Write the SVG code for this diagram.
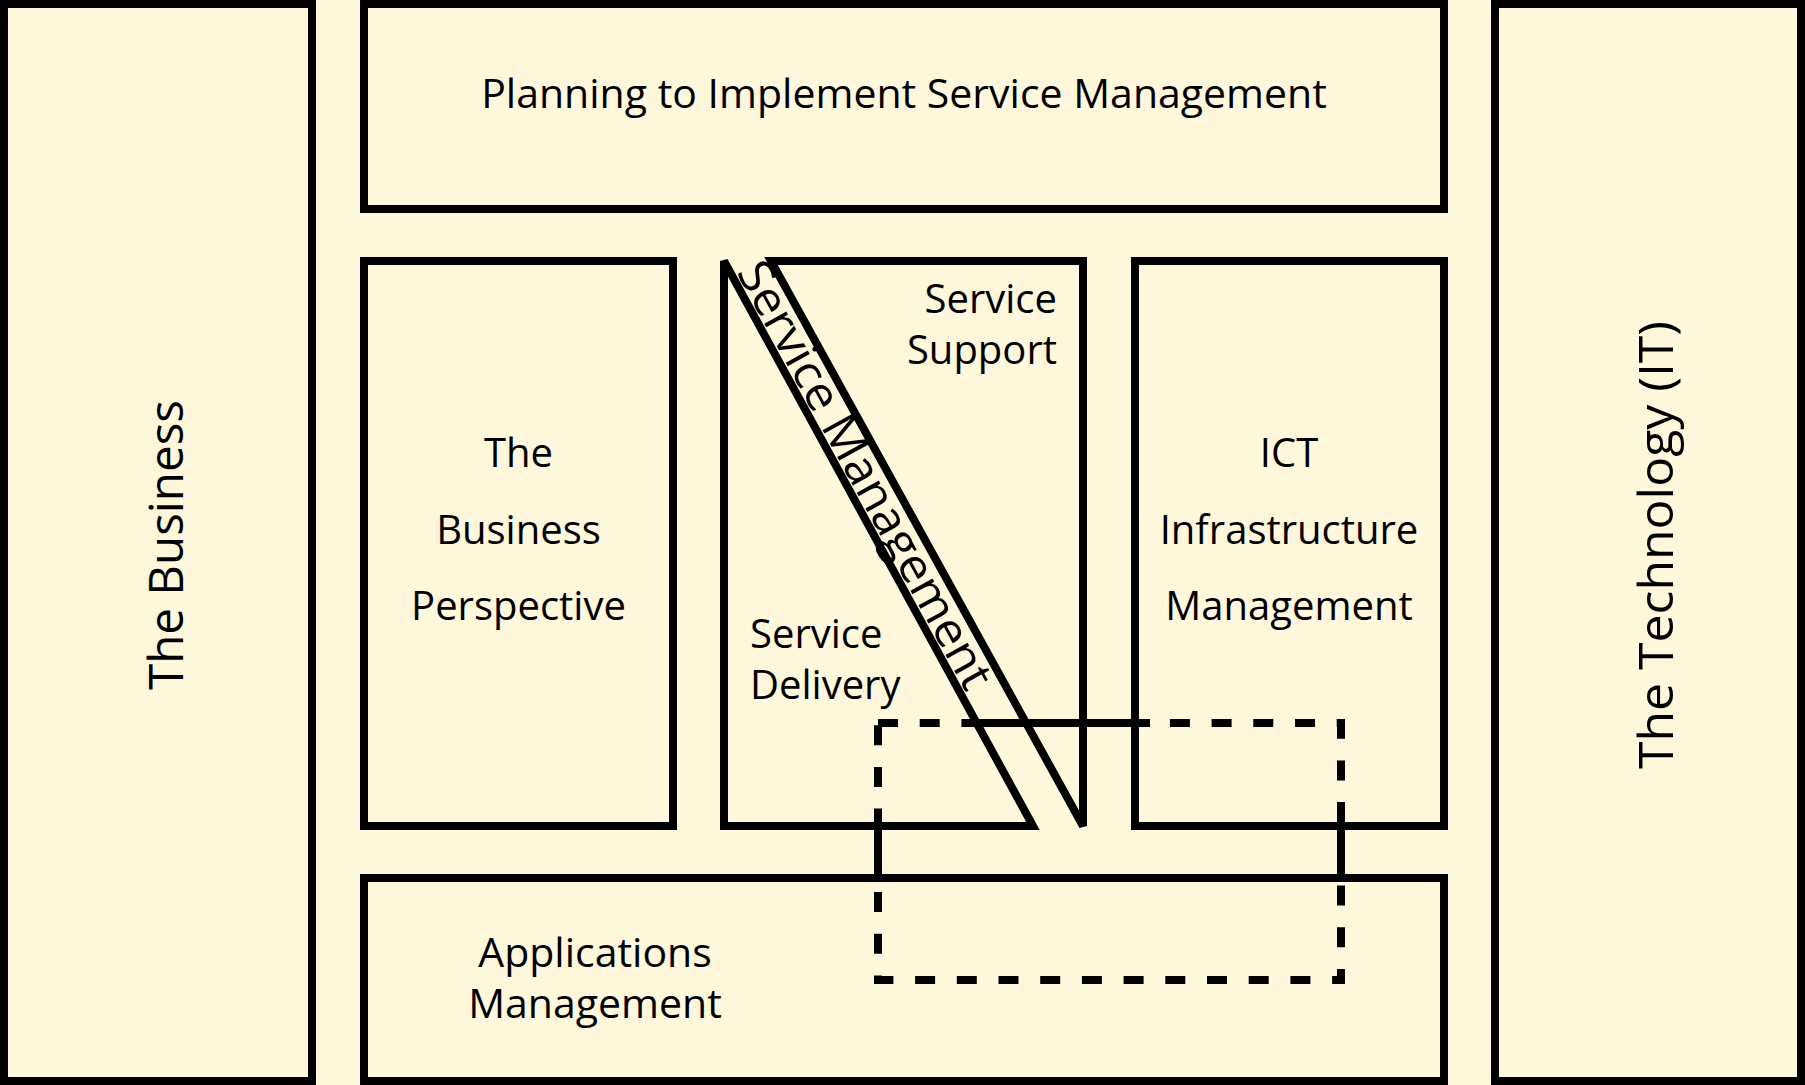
<svg xmlns="http://www.w3.org/2000/svg" width="1805" height="1085" viewBox="0 0 1805 1085">
<style>
.box{fill:#FFF7DC;stroke:#000;stroke-width:8;stroke-linejoin:miter}
.ln{fill:none;stroke:#000;stroke-width:8}
.dash{fill:none;stroke:#000;stroke-width:8;stroke-dasharray:20 21.7}
text{font-family:"Open Sans","DejaVu Sans",sans-serif;fill:#000}
.t40{font-size:40px}
.t41{font-size:41px}
.t47{font-size:47px}
.mid{text-anchor:middle}
.end{text-anchor:end}
</style>
<rect x="0" y="0" width="1805" height="1085" fill="#FFF7DC"/>
<g id="the-business">
<rect class="box" x="4" y="4" width="308" height="1077"/>
<text class="t47 mid" transform="translate(183,545) rotate(-90)" textLength="290" lengthAdjust="spacingAndGlyphs">The Business</text>
</g>
<g id="the-technology">
<rect class="box" x="1495" y="4" width="306" height="1077"/>
<text class="t47 mid" transform="translate(1673,545) rotate(-90)" textLength="448" lengthAdjust="spacingAndGlyphs">The Technology (IT)</text>
</g>
<g id="planning">
<rect class="box" x="364" y="4" width="1080" height="205"/>
<text class="t41 mid" x="904" y="108">Planning to Implement Service Management</text>
</g>
<g id="business-perspective">
<rect class="box" x="364" y="261" width="309" height="565"/>
<text class="t40 mid" x="518.5" y="467">The</text>
<text class="t40 mid" x="518.5" y="544">Business</text>
<text class="t40 mid" x="518.5" y="620">Perspective</text>
</g>
<g id="service-delivery">
<polygon class="box" points="724,261 1033,826 724,826"/>
<text class="t40" x="750" y="648">Service</text>
<text class="t40" x="750" y="699">Delivery</text>
</g>
<g id="service-support">
<polygon class="box" points="771,261 1083,261 1083,826"/>
<text class="t40 end" x="1057" y="313">Service</text>
<text class="t40 end" x="1057" y="364">Support</text>
</g>
<g id="service-management">
<text class="t47" transform="translate(736,272) rotate(61.3)" textLength="480" lengthAdjust="spacingAndGlyphs">Service Management</text>
</g>
<g id="ict">
<rect class="box" x="1135" y="261" width="309" height="565"/>
<text class="t40 mid" x="1289" y="467">ICT</text>
<text class="t40 mid" x="1289" y="544">Infrastructure</text>
<text class="t40 mid" x="1289" y="620">Management</text>
</g>
<g id="applications">
<rect class="box" x="364" y="878" width="1080" height="203"/>
<text class="t41 mid" x="595" y="967">Applications</text>
<text class="t41 mid" x="595" y="1018">Management</text>
</g>
<g id="connectors">
<rect class="dash" x="878" y="723" width="463" height="257"/>
<line class="ln" x1="978" y1="723" x2="1150" y2="723"/>
<line class="ln" x1="878" y1="822" x2="878" y2="882"/>
<line class="ln" x1="1341" y1="822" x2="1341" y2="882"/>
</g>
</svg>
